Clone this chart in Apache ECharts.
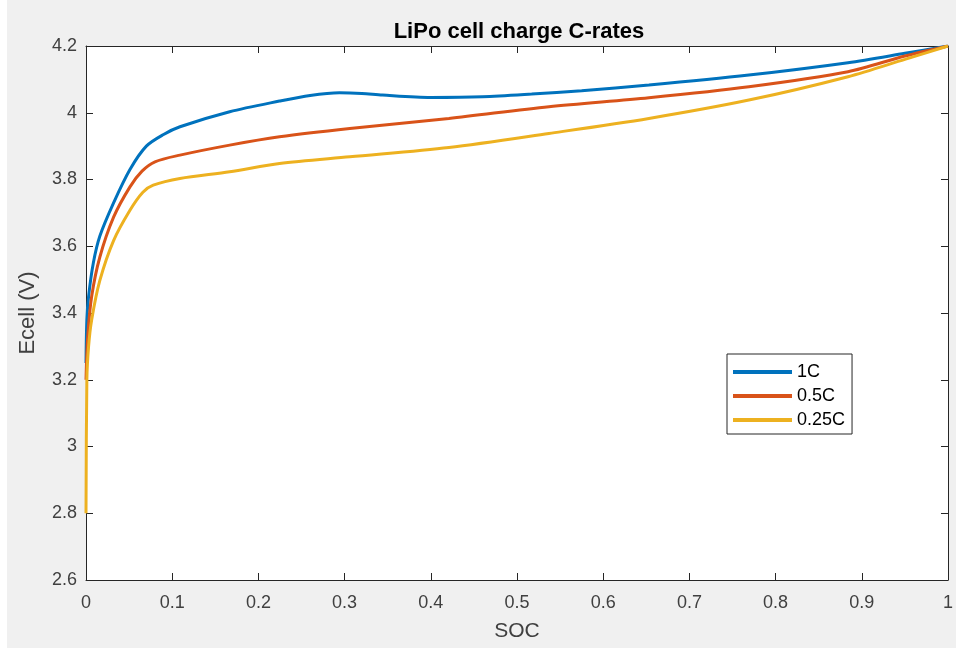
<!DOCTYPE html>
<html>
<head>
<meta charset="utf-8">
<script src="https://cdn.jsdelivr.net/npm/echarts@6/dist/echarts.min.js"></script>
<style>
html,body{margin:0;padding:0;background:#fff;}
#chart{width:956px;height:648px;}
</style>
</head>
<body>
<div id="chart"></div>
<script>
const titleText = 'LiPo cell charge C-rates';
const xName = 'SOC';
const yName = 'Ecell (V)';
const seriesNames = ['1C', '0.5C', '0.25C'];

const soc1C = [0, 0.001, 0.003, 0.0085, 0.016, 0.032, 0.051, 0.070, 0.09, 0.109, 0.1667, 0.2245, 0.26, 0.294, 0.32, 0.344, 0.40, 0.46, 0.517, 0.575, 0.653, 0.769, 0.884, 0.95, 1.0];
const v1C   = [3.25, 3.38, 3.45, 3.55, 3.63, 3.73, 3.83, 3.90, 3.935, 3.958, 4.003, 4.035, 4.052, 4.06, 4.058, 4.053, 4.046, 4.048, 4.056, 4.066, 4.083, 4.113, 4.150, 4.178, 4.2];

const soc05C = [0, 0.002, 0.0066, 0.016, 0.032, 0.051, 0.065, 0.08, 0.109, 0.1667, 0.2245, 0.306, 0.421, 0.537, 0.653, 0.769, 0.884, 0.95, 1.0];
const v05C   = [3.2, 3.33, 3.45, 3.567, 3.687, 3.778, 3.825, 3.853, 3.873, 3.903, 3.928, 3.953, 3.983, 4.018, 4.045, 4.078, 4.123, 4.17, 4.2];

const soc025C = [0, 0.001, 0.003, 0.0066, 0.016, 0.032, 0.051, 0.066, 0.078, 0.109, 0.1667, 0.2245, 0.306, 0.421, 0.537, 0.653, 0.769, 0.884, 0.95, 1.0];
const v025C   = [2.8, 3.2, 3.3, 3.38, 3.497, 3.617, 3.708, 3.762, 3.783, 3.803, 3.823, 3.848, 3.868, 3.896, 3.938, 3.983, 4.038, 4.108, 4.16, 4.2];

const colors = ['#0072BD', '#D95319', '#EDB120'];

function pairs(xs, ys) { return xs.map((x, i) => [x, ys[i]]); }

const chart = echarts.init(document.getElementById('chart'));
const axisColor = '#262626';
const labelColor = '#404040';
const ff = 'Liberation Sans, Arial, sans-serif';

const baseX = {
  type: 'value', min: 0, max: 1, interval: 0.1,
  axisLine: { show: true, onZero: false, lineStyle: { color: axisColor, width: 1 } },
  axisTick: { show: true, inside: true, length: 7, lineStyle: { color: axisColor } },
  splitLine: { show: false }
};
const baseY = {
  type: 'value', min: 2.6, max: 4.2, interval: 0.2,
  axisLine: { show: true, onZero: false, lineStyle: { color: axisColor, width: 1 } },
  axisTick: { show: true, inside: true, length: 7, lineStyle: { color: axisColor } },
  splitLine: { show: false }
};

const data = [pairs(soc1C, v1C), pairs(soc05C, v05C), pairs(soc025C, v025C)];

chart.setOption({
  animation: false,
  backgroundColor: '#f0f0f0',
  graphic: [{ type: 'rect', shape: { x: 0, y: 0, width: 7, height: 648 }, style: { fill: '#ffffff' }, z: -1 }],
  title: {
    text: titleText, left: 514, top: 16, textAlign: 'center',
    textStyle: { fontFamily: ff, fontSize: 22, fontWeight: 'bold', color: '#000' }
  },
  grid: { left: 86, right: 6, top: 46, bottom: 68, show: true, backgroundColor: '#ffffff', borderWidth: 0 },
  xAxis: [
    Object.assign({}, baseX, {
      position: 'bottom',
      name: xName, nameLocation: 'middle', nameGap: 41,
      nameTextStyle: { fontFamily: ff, fontSize: 21, color: labelColor },
      axisLabel: { margin: 14, fontFamily: ff, fontSize: 18, color: labelColor,
        formatter: v => (Math.round(v * 10) / 10).toString() }
    }),
    Object.assign({}, baseX, { position: 'top', axisLabel: { show: false } })
  ],
  yAxis: [
    Object.assign({}, baseY, {
      position: 'left',
      name: yName, nameLocation: 'middle', nameGap: 47,
      nameTextStyle: { fontFamily: ff, fontSize: 22, color: labelColor },
      axisLabel: { margin: 9, fontFamily: ff, fontSize: 18, color: labelColor,
        formatter: v => (Math.round(v * 10) / 10).toString() }
    }),
    Object.assign({}, baseY, { position: 'right', axisLabel: { show: false } })
  ],
  legend: {
    orient: 'vertical', left: 727, top: 354,
    backgroundColor: '#ffffff', borderColor: axisColor, borderWidth: 1, borderRadius: 0,
    padding: [9, 7, 5, 6],
    icon: 'rect',
    itemWidth: 59, itemHeight: 4, itemGap: 6,
    textStyle: { fontFamily: ff, fontSize: 18, color: '#000' },
    data: seriesNames
  },
  series: seriesNames.map((n, i) => ({
    name: n, type: 'line', data: data[i], symbol: 'none', smooth: 0.3,
    xAxisIndex: 0, yAxisIndex: 0,
    lineStyle: { color: colors[i], width: 3 }, itemStyle: { color: colors[i] }
  }))
});
</script>
</body>
</html>
